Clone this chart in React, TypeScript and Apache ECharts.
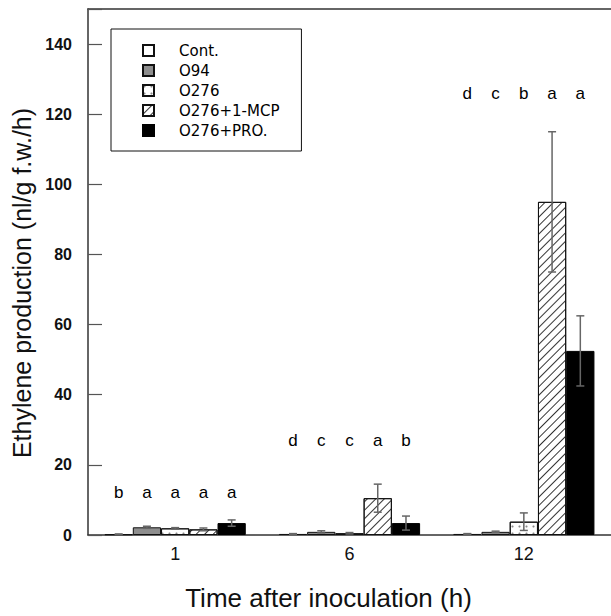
import React, { useEffect, useRef } from 'react';
import * as echarts from 'echarts';

const categories = ['1', '6', '12'];
const seriesNames = ['Cont.', 'O94', 'O276', 'O276+1-MCP', 'O276+PRO.'];

const contValues = [0.2, 0.3, 0.3];
const o94Values = [2.2, 0.9, 0.9];
const o276Values = [1.9, 0.5, 3.8];
const mcpValues = [1.6, 10.5, 95];
const proValues = [3.4, 3.4, 52.5];

const contErrors = [0.1, 0.1, 0.1];
const o94Errors = [0.3, 0.3, 0.2];
const o276Errors = [0.2, 0.2, 2.5];
const mcpErrors = [0.4, 4.0, 20];
const proErrors = [0.9, 2.0, 10];

const letters1 = ['b', 'a', 'a', 'a', 'a'];
const letters6 = ['d', 'c', 'c', 'a', 'b'];
const letters12 = ['d', 'c', 'b', 'a', 'a'];
const letterHeights = [12, 27, 126];

const yTicks = [0, 20, 40, 60, 80, 100, 120, 140];

const GAP = 0.19;
const N = 5;

export default function App() {
  const ref = useRef<HTMLDivElement>(null);
  useEffect(() => {
    if (!ref.current) return;
    const chart = echarts.init(ref.current, undefined, { renderer: 'svg' });
    const allValues = [contValues, o94Values, o276Values, mcpValues, proValues];
    const allErrors = [contErrors, o94Errors, o276Errors, mcpErrors, proErrors];
    const allLetters = [letters1, letters6, letters12];

    const styles: any[] = [
      { color: '#ffffff', borderColor: '#111', borderWidth: 1 },
      { color: '#8e8e8e', borderColor: '#111', borderWidth: 1 },
      {
        color: '#ffffff', borderColor: '#111', borderWidth: 1,
        decal: { symbol: 'circle', symbolSize: 0.7, dashArrayX: [3, 4], dashArrayY: [3, 4], color: '#8a8a8a', backgroundColor: '#ffffff' },
      },
      {
        color: '#ffffff', borderColor: '#111', borderWidth: 1,
        decal: { symbol: 'rect', symbolSize: 1, dashArrayX: [1, 0], dashArrayY: [1, 5], rotation: -Math.PI / 4, color: '#333', backgroundColor: '#ffffff' },
      },
      { color: '#000000', borderColor: '#000', borderWidth: 1 },
    ];

    const barSeries = seriesNames.map((name, k) => ({
      name,
      type: 'bar',
      data: allValues[k],
      barGap: '0%',
      barCategoryGap: GAP * 100 + '%',
      itemStyle: styles[k],
      emphasis: { disabled: true },
    }));

    const errData: number[][] = [];
    categories.forEach((_, c) => {
      for (let k = 0; k < N; k++) errData.push([c, k, allValues[k][c], allErrors[k][c]]);
    });
    const letterData: number[][] = [];
    const letterTexts: string[] = [];
    categories.forEach((_, c) => {
      for (let k = 0; k < N; k++) {
        letterData.push([c, k, letterHeights[c]]);
        letterTexts.push(allLetters[c][k]);
      }
    });

    const barX = (api: any, c: number, k: number, v: number) => {
      const band = api.size([1, 0])[0];
      const group = band * (1 - GAP);
      const bw = group / N;
      const p = api.coord([c, v]);
      return p[0] - group / 2 + bw * (k + 0.5);
    };

    const option: any = {
      animation: false,
      backgroundColor: '#ffffff',
      grid: { left: 88, right: -5, top: 9, bottom: 81 },
      legend: {
        data: seriesNames,
        orient: 'vertical',
        left: 111,
        top: 29,
        padding: [14, 22, 13, 31],
        itemGap: 5,
        itemWidth: 11,
        itemHeight: 11,
        icon: 'rect',
        borderColor: '#111',
        borderWidth: 1,
        selectedMode: false,
        textStyle: { fontFamily: 'DejaVu Sans', fontSize: 15, color: '#000', padding: [0, 0, 0, 20] },
      },
      xAxis: [
        {
          type: 'category',
          data: categories,
          axisLine: { lineStyle: { color: '#333', width: 1.5 } },
          axisTick: { inside: true, length: 14, lineStyle: { color: '#555', width: 1.2 } },
          axisLabel: { fontFamily: 'Liberation Sans', fontSize: 18, color: '#111', margin: 10 },
          name: 'Time after inoculation (h)',
          nameLocation: 'middle',
          nameGap: 50,
          nameTextStyle: { fontFamily: 'Liberation Sans', fontSize: 26, color: '#111', padding: [0, 42, 0, 0] },
        },
        {
          type: 'category',
          data: categories,
          position: 'top',
          axisLine: { show: true, onZero: false, lineStyle: { color: '#333', width: 1.5 } },
          axisTick: { show: false },
          axisLabel: { show: false },
        },
      ],
      yAxis: {
        type: 'value',
        min: 0,
        max: 150,
        interval: 20,
        axisLine: { show: true, lineStyle: { color: '#333', width: 1.5 } },
        axisTick: { show: true, inside: true, length: 14, lineStyle: { color: '#555', width: 1.2 } },
        axisLabel: {
          fontFamily: 'Liberation Sans', fontWeight: 'bold', fontSize: 16, color: '#111', margin: 16,
          formatter: (v: number) => (yTicks.indexOf(v) >= 0 ? String(v) : ''),
        },
        splitLine: { show: false },
        name: 'Ethylene production (nl/g f.w./h)',
        nameLocation: 'middle',
        nameGap: 47,
        nameTextStyle: { fontFamily: 'Liberation Sans', fontSize: 25, color: '#111', padding: [0, 22, 0, 0] },
      },
      series: [
        ...barSeries,
        {
          name: 'errors',
          type: 'custom',
          data: errData,
          encode: { x: 0, y: 2 },
          z: 5,
          silent: true,
          renderItem: (params: any, api: any) => {
            const c = api.value(0);
            const k = api.value(1);
            const v = api.value(2);
            const e = api.value(3);
            const x = barX(api, c, k, v);
            const yt = api.coord([c, v + e])[1];
            const yb = api.coord([c, Math.max(v - e, 0)])[1];
            const st = { stroke: '#666', lineWidth: 1.5 };
            return {
              type: 'group',
              children: [
                { type: 'line', shape: { x1: x, y1: yt, x2: x, y2: yb }, style: st },
                { type: 'line', shape: { x1: x - 4, y1: yt, x2: x + 4, y2: yt }, style: st },
                { type: 'line', shape: { x1: x - 4, y1: yb, x2: x + 4, y2: yb }, style: st },
              ],
            };
          },
        },
        {
          name: 'letters',
          type: 'custom',
          data: letterData,
          encode: { x: 0, y: 2 },
          z: 5,
          silent: true,
          renderItem: (params: any, api: any) => {
            const c = api.value(0);
            const k = api.value(1);
            const h = api.value(2);
            const x = barX(api, c, k, h);
            const y = api.coord([c, h])[1];
            return {
              type: 'text',
              x,
              y,
              style: {
                text: letterTexts[params.dataIndex],
                fontFamily: 'Liberation Sans',
                fontSize: 17,
                fill: '#000',
                align: 'center',
                verticalAlign: 'middle',
              },
            };
          },
        },
      ],
    };
    chart.setOption(option);
    return () => chart.dispose();
  }, []);
  return (
    <div
      ref={ref}
      style={{ position: 'fixed', left: 0, top: 0, width: 611, height: 616, background: '#fff' }}
    />
  );
}
